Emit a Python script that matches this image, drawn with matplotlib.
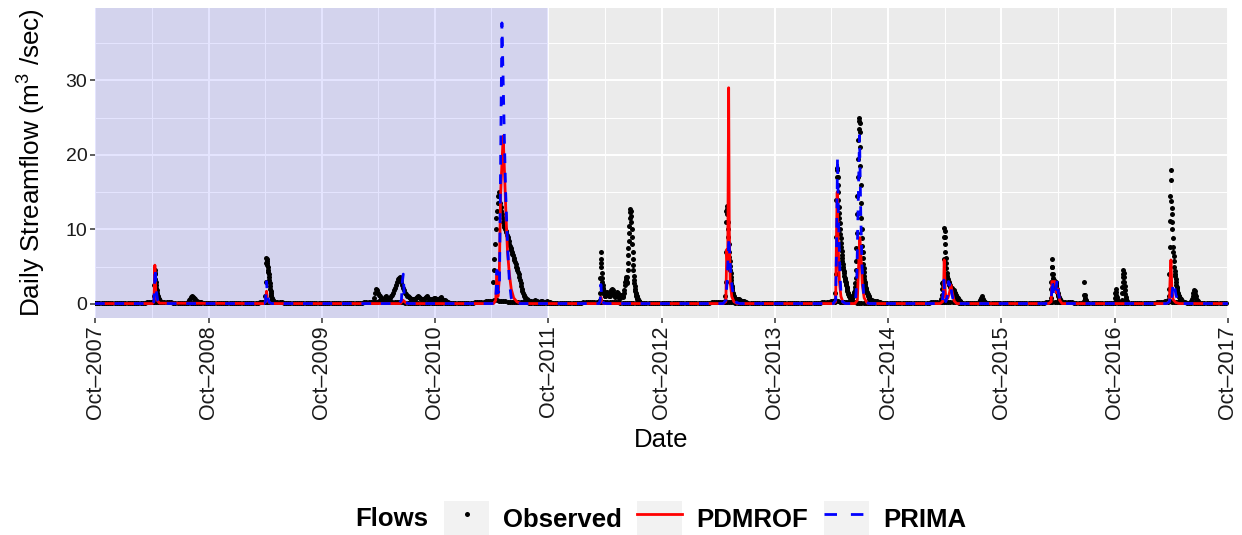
import numpy as np
import matplotlib
matplotlib.use("Agg")
import matplotlib.pyplot as plt
import matplotlib.dates as mdates
from matplotlib.legend_handler import HandlerTuple
from matplotlib.patches import Rectangle
from matplotlib.lines import Line2D

plt.rcParams['font.family'] = ['Liberation Sans', 'DejaVu Sans']
plt.rcParams['mathtext.fontset'] = 'custom'
plt.rcParams['mathtext.rm'] = 'Liberation Sans'
plt.rcParams['mathtext.it'] = 'Liberation Sans:italic'
plt.rcParams['mathtext.bf'] = 'Liberation Sans:bold'

# ---------------- data ----------------
t0 = np.datetime64('2007-10-01')          # day 0 of the record
t_end = np.datetime64('2017-10-01')
calib_end = np.datetime64('2011-10-01')   # shaded calibration period

# observed weekly low-flow baseline (m3/s), one value every 7 days from t0
obs_base_step = 7
obs_base = [
    0.10,0.10,0.11,0.12,0.12,0.11,0.10,0.10,0.09,0.09,0.10,0.11,0.12,0.12,0.11,0.10,0.10,0.09,0.10,0.11,0.12,0.14,0.16,0.18,0.20,0.22,
    0.25,0.28,0.30,0.30,0.28,0.26,0.24,0.22,0.20,0.19,0.18,0.17,0.16,0.15,0.15,0.14,0.14,0.13,0.13,0.12,0.12,0.12,0.11,0.11,0.11,0.10,
    0.10,0.10,0.10,0.11,0.11,0.10,0.10,0.09,0.09,0.09,0.10,0.10,0.11,0.11,0.10,0.10,0.09,0.09,0.10,0.11,0.12,0.13,0.15,0.17,0.20,0.22,
    0.26,0.30,0.32,0.30,0.28,0.25,0.22,0.20,0.19,0.18,0.17,0.16,0.15,0.14,0.14,0.13,0.13,0.12,0.12,0.12,0.11,0.11,0.11,0.10,0.10,0.10,
    0.10,0.10,0.11,0.11,0.12,0.12,0.11,0.10,0.10,0.10,0.11,0.12,0.13,0.13,0.12,0.11,0.11,0.12,0.14,0.16,0.20,0.25,0.30,0.30,0.28,0.30,
    0.32,0.35,0.35,0.33,0.30,0.28,0.26,0.25,0.24,0.22,0.20,0.20,0.19,0.18,0.18,0.17,0.17,0.16,0.16,0.15,0.15,0.15,0.14,0.14,0.14,0.14,
    0.13,0.13,0.13,0.14,0.15,0.16,0.15,0.14,0.13,0.13,0.14,0.15,0.16,0.17,0.16,0.15,0.15,0.16,0.18,0.20,0.22,0.25,0.28,0.30,0.33,0.35,
    0.40,0.45,0.50,0.50,0.45,0.40,0.36,0.33,0.30,0.28,0.26,0.25,0.24,0.22,0.21,0.20,0.20,0.19,0.18,0.18,0.17,0.17,0.16,0.16,0.15,0.15,
    0.15,0.14,0.14,0.15,0.16,0.15,0.14,0.13,0.13,0.12,0.12,0.13,0.14,0.15,0.16,0.17,0.18,0.20,0.22,0.25,0.28,0.30,0.32,0.30,0.28,0.27,
    0.26,0.25,0.24,0.23,0.22,0.21,0.20,0.19,0.18,0.17,0.16,0.15,0.14,0.14,0.13,0.13,0.12,0.12,0.12,0.11,0.11,0.11,0.10,0.10,0.10,0.10,
    0.10,0.10,0.10,0.11,0.11,0.11,0.10,0.10,0.10,0.10,0.11,0.11,0.12,0.12,0.11,0.11,0.10,0.10,0.11,0.12,0.13,0.14,0.15,0.17,0.19,0.21,
    0.24,0.27,0.30,0.28,0.26,0.24,0.22,0.20,0.19,0.18,0.17,0.16,0.15,0.14,0.14,0.13,0.13,0.12,0.12,0.11,0.11,0.11,0.10,0.10,0.10,0.10,
    0.10,0.10,0.10,0.10,0.11,0.11,0.10,0.10,0.10,0.09,0.09,0.10,0.10,0.11,0.11,0.10,0.10,0.10,0.11,0.12,0.14,0.16,0.18,0.20,0.22,0.25,
    0.30,0.35,0.40,0.38,0.35,0.32,0.30,0.28,0.26,0.24,0.22,0.20,0.19,0.18,0.17,0.16,0.15,0.15,0.14,0.14,0.13,0.13,0.12,0.12,0.12,0.11,
    0.11,0.11,0.10,0.10,0.11,0.11,0.10,0.10,0.10,0.10,0.10,0.11,0.11,0.12,0.12,0.11,0.11,0.12,0.13,0.15,0.17,0.20,0.22,0.25,0.28,0.30,
    0.32,0.30,0.28,0.26,0.24,0.22,0.20,0.19,0.18,0.17,0.16,0.15,0.14,0.14,0.13,0.13,0.12,0.12,0.12,0.11,0.11,0.11,0.10,0.10,0.10,0.10,
    0.10,0.10,0.10,0.11,0.11,0.10,0.10,0.10,0.09,0.09,0.10,0.10,0.11,0.11,0.10,0.10,0.10,0.11,0.12,0.13,0.15,0.17,0.19,0.22,0.25,0.28,
    0.30,0.32,0.30,0.28,0.26,0.24,0.22,0.20,0.19,0.18,0.17,0.16,0.15,0.14,0.14,0.13,0.13,0.12,0.12,0.12,0.11,0.11,0.11,0.10,0.10,0.10,
    0.10,0.10,0.10,0.10,0.11,0.11,0.10,0.10,0.10,0.10,0.10,0.11,0.11,0.12,0.12,0.11,0.11,0.12,0.13,0.15,0.18,0.21,0.24,0.28,0.30,0.33,
    0.35,0.33,0.30,0.28,0.26,0.24,0.22,0.20,0.19,0.18,0.17,0.16,0.15,0.14,0.14,0.13,0.13,0.12,0.12,0.12,0.11,0.11,0.11,0.10,0.10,0.10,
    0.10,0.10,
]

# observed storm events: (start day after t0, step in days, values)
obs_a_start, obs_a_step = 188, 1
obs_a = [0.2,0.4,1.0,2.5,4.2,4.5,4.0,3.4,2.9,2.5,2.1,1.8,1.5,1.3,1.1,0.9,0.8,0.7,0.6,0.5,0.45,0.4,0.35,0.3]
obs_a2_start, obs_a2_step = 300, 3
obs_a2 = [0.3,0.5,0.7,0.9,1.0,0.9,0.8,0.6,0.5,0.4,0.35,0.3,0.3,0.3,0.25]
obs_b_start, obs_b_step = 548, 1
obs_b = [0.3,1.0,3.0,5.5,6.2,6.0,5.8,5.5,5.2,4.9,4.6,4.3,4.0,3.6,3.2,2.8,2.4,2.0,1.7,1.4,1.2,1.0,0.8,0.7,0.6,0.5,0.4,0.35,0.3]
obs_c_start, obs_c_step = 898, 3
obs_c = [0.3,0.8,1.5,2.0,1.8,1.5,1.2,1.0,
         0.8,0.7,0.6,0.7,0.9,1.0,0.8,0.7,0.6,0.7,0.8,1.0,1.2,
         1.5,1.8,2.2,2.6,3.0,3.3,3.5,3.6,3.4,3.0,2.6,2.2,
         1.8,1.5,1.3,1.1,1.0,0.9,0.8,0.7,0.7,0.6,0.6,0.6,
         0.7,0.8,0.9,1.0,0.9,0.8,0.7,0.6,0.6,0.7,0.8,0.9,
         1.0,0.9,0.8,0.7,0.6,0.5,0.6,0.7,0.8,0.8,0.7,0.6,
         0.5,0.6,0.8,0.9,0.8,0.6,0.5,0.4,0.5,0.4,0.3,0.3]
obs_d_start, obs_d_step = 1282, 2
obs_d = [0.4,3.0,4.5,6.0,8.0,10.0,11.5,12.5,13.5,14.5,15.0,14.5,13.5,
         13.0,12.5,12.0,11.5,11.0,10.6,10.3,10.0,9.8,9.6,
         9.3,9.0,8.7,8.4,8.1,7.8,7.5,7.2,6.9,6.7,6.5,
         6.2,5.9,5.6,5.3,5.0,4.8,4.6,4.3,4.0,
         3.6,3.2,2.8,2.4,2.0,1.7,1.4,1.2,1.0,
         0.9,0.8,0.7,0.6,0.55,0.5,0.45,0.4,0.4,0.35]
obs_d2_start, obs_d2_step = 1406, 4
obs_d2 = [0.35,0.3,0.4,0.5,0.45,0.35,0.3,0.3,0.35,0.4,0.3,0.25,0.3,0.35,0.3,0.25]
obs_e_start, obs_e_step = 1626, 1
obs_e = [0.3,0.5,1.5,3.5,5.5,6.9,6.0,5.0,4.2,3.5,3.0,2.6,2.2,1.9,1.7,1.5,1.3,1.2,1.1,1.1,1.2,1.3]
obs_e2_start, obs_e2_step = 1649, 2
obs_e2 = [1.5,1.6,1.5,1.3,1.1,1.0,1.2,1.5,1.8,2.0,1.8,1.5,1.2,1.0,0.9,1.0,1.3,1.6,1.4,1.1,
          0.9,0.8,0.8,1.0,1.2,1.0,0.9,1.1,1.4,1.9]
obs_e3_start, obs_e3_step = 1709, 1
obs_e3 = [2.5,3.0,3.4,3.6,3.2,2.8,3.0,3.6,4.5,5.5,6.5,7.5,8.5,9.5,10.5,11.5,12.3,12.8,12.5,11.8,
          11.0,10.0,9.0,8.0,7.0,6.0,5.2,4.5,3.8,3.2,2.8,2.4,2.0,1.7,1.5,1.3,1.1,1.0,0.9,0.8,
          0.7,0.6,0.5,0.45,0.4,0.35,0.3]
obs_f_start, obs_f_step = 2030, 1
obs_f = [0.2,0.4,1.0,3.0,7.0,11.0,12.5,13.1,12.8,12.0,11.0,10.0,9.0,8.0,7.0,6.3,5.7,5.1,4.6,4.1,
         3.6,3.2,2.8,2.4,2.1,1.8,1.5,1.3,1.1,1.0,0.9,0.8,0.7,0.6,0.6,0.55,0.5]
obs_f2_start, obs_f2_step = 2067, 3
obs_f2 = [0.5,0.6,0.7,0.6,0.5,0.45,0.4,0.35,0.35,0.3,0.3,0.25]
obs_g_start, obs_g_step = 2385, 1
obs_g = [0.3,0.5,1.5,4.0,9.0,14.0,17.0,18.3,18.0,17.0,16.0,15.0,14.0,13.0,12.2,11.5,10.8,10.0,9.4,8.8,
         8.2,7.6,7.1,6.6,6.2,5.8,5.4,5.0,4.7,4.4,4.1,3.8,3.5,3.3,3.1,2.9,2.7,2.5,2.3,2.1,
         1.9,1.7,1.5,1.4,1.3,1.2,1.1,1.0,0.9,0.9,0.8,0.8,0.8,0.8,0.8,0.8,0.8,0.9,1.0,1.0,
         1.1,1.2,1.4,1.6,1.9,2.3,2.8,3.5,4.5,5.8,7.5,9.5,12.0,14.5,17.0,19.5,22.0,23.5,24.5,25.0,
         24.3,23.0,21.0,18.5,16.0,13.5,11.5,10.0,8.8,7.8,6.9,6.1,5.4,4.8,4.3,3.8,3.4,3.0,2.7,2.4,
         2.2,2.0,1.8,1.6,1.5,1.4,1.3,1.2,1.1,1.0,0.9,0.8,0.7,0.6,0.55,0.5,0.45,0.4]
obs_g2_start, obs_g2_step = 2500, 3
obs_g2 = [0.4,0.45,0.5,0.45,0.4,0.35,0.3,0.35,0.3,0.25,0.3]
obs_h_start, obs_h_step = 2728, 1
obs_h = [0.3,0.6,1.2,2.0,2.8,2.5,2.0,3.0,6.0,9.0,10.2,9.8,9.0,8.0,7.0,6.2,5.5,4.8,4.2,3.8,
         3.5,3.3,3.1,3.0,2.9,2.8,2.7,2.6,2.5,2.4,2.3,2.2,2.2,2.1,2.1,2.0,2.0,1.9,1.9,1.8,
         1.8,1.7,1.7,1.6,1.5,1.4,1.3,1.2,1.1,1.0,0.9,0.85,0.8,0.75,0.7,0.65,0.6,0.55,0.5,0.45,
         0.4,0.35,0.3]
obs_h2_start, obs_h2_step = 2850, 3
obs_h2 = [0.3,0.5,0.8,1.0,0.7,0.4,0.3]
obs_i_start, obs_i_step = 3080, 1
obs_i = [0.3,0.8,2.0,3.0,4.0,5.0,6.0,5.0,4.0,3.5,3.2,2.8,3.0,3.2,2.8,2.5,2.2,2.6,3.0,2.8,
         2.4,2.0,1.8,1.6,1.4,1.2,1.0,0.9,0.8,0.7,0.6,0.5,0.45,0.4,0.35,0.3]
obs_i2_start, obs_i2_step = 3188, 1
obs_i2 = [0.4,1.2,3.0,1.2,0.8,0.6,0.5,0.4]
obs_i3_start, obs_i3_step = 3288, 1
obs_i3 = [0.3,0.8,1.5,2.0,1.6,1.2,0.9,0.7,0.5,0.4,0.3]
obs_i4_start, obs_i4_step = 3310, 1
obs_i4 = [0.5,1.5,2.3,3.0,3.6,4.0,4.6,4.2,3.6,3.0,2.4,1.8,1.3,0.9,0.6,0.45,0.35,0.3]
obs_j_start, obs_j_step = 3460, 1
obs_j = [0.3,0.5,1.0,2.0,4.0,7.7,11.1,14.5,17.9,16.6,13.8,12.9,12.0,11.0,10.0,8.8,7.7,6.9,6.4,5.7,
         5.0,4.4,4.0,3.7,3.3,2.9,2.6,2.3,2.1,1.9,1.7,1.5,1.3,1.2,1.1,1.0,0.9,0.8,0.7,0.65,
         0.6,0.55,0.5,0.5,0.45,0.45,0.4]
obs_j2_start, obs_j2_step = 3535, 2
obs_j2 = [0.4,0.6,1.0,1.5,1.9,1.7,1.3,1.0,0.7,0.5,0.4,0.3]

# simulated flows: hydrograph vertices (day after t0, m3/s)
pdm_day = [0,
           185,190,193,196,200,208,
           545,550,553,556,562,570,
           985,993,998,1005,
           1285,1292,1296,1299,1303,1308,1316,1320,1325,1330,1336,1342,1350,1360,1370,1380,
           1625,1629,1631,1634,1640,
           2025,2034,2037,2040,2043,2045,2048,2053,2060,2070,
           2380,2388,2391,2393,2396,2400,2405,2412,2420,2450,2458,2462,2466,2470,2474,2480,2490,2500,
           2725,2733,2736,2738,2741,2744,2750,2755,2760,2764,2770,2778,
           3075,3083,3085,3096,3100,3105,3110,3118,
           3455,3464,3466,3469,3472,3476,3484,3495,
           3653]
pdm_q = [0.05,
         0.05,0.3,5.2,1.5,0.5,0.1,
         0.05,0.3,1.7,0.6,0.15,0.05,
         0.05,0.5,0.3,0.05,
         0.05,0.5,4.0,1.0,3.0,15.0,22.5,18.0,12.0,7.0,4.0,2.0,0.8,0.3,0.1,0.05,
         0.05,0.3,0.9,0.3,0.05,
         0.05,0.3,7.3,5.0,29.0,10.0,3.0,1.0,0.3,0.05,
         0.05,0.3,10.0,15.0,8.0,3.0,1.0,0.2,0.05,0.05,0.5,5.0,8.9,6.0,2.5,0.8,0.1,0.05,
         0.05,0.3,2.0,5.9,2.0,0.5,0.8,1.5,2.5,1.5,0.4,0.05,
         0.05,0.3,3.0,3.0,1.5,2.0,0.5,0.05,
         0.05,0.3,3.0,5.9,2.0,0.6,0.2,0.05,
         0.05]
prima_day = [0,
             185,190,194,197,202,210,218,
             545,550,553,556,562,570,
             980,988,991,994,997,1000,1010,
             1285,1292,1296,1300,1304,1308,1312,1316,1320,1324,1330,1336,1342,1350,1360,
             1625,1629,1631,1634,1640,1650,
             2025,2034,2038,2041,2044,2047,2051,2055,2060,2068,2078,
             2380,2388,2391,2394,2397,2401,2405,2410,2420,2445,2452,2456,2460,2465,2469,2473,2478,2485,2495,
             2725,2732,2735,2737,2740,2743,2748,2752,2755,2758,2762,2768,2775,
             3075,3083,3087,3091,3097,3102,3106,3112,3120,
             3455,3464,3468,3472,3476,3480,3485,3492,3505,
             3653]
prima_q = [0.05,
           0.05,0.3,4.8,2.0,0.5,0.1,0.05,
           0.05,0.3,3.0,1.0,0.2,0.05,
           0.05,0.5,3.0,4.0,1.0,0.2,0.05,
           0.05,0.5,4.5,1.5,2.0,20.0,37.7,30.0,22.0,15.0,8.0,3.0,0.8,0.1,0.05,
           0.05,0.5,2.6,0.8,0.1,0.05,
           0.05,0.5,3.0,6.0,8.9,6.0,3.5,2.0,0.8,0.2,0.05,
           0.05,0.5,8.0,19.7,12.0,5.0,1.5,0.3,0.05,0.05,0.3,3.0,12.0,22.6,12.0,5.0,1.5,0.3,0.05,
           0.05,0.4,1.5,3.2,1.0,0.3,1.0,3.0,2.5,3.0,1.5,0.3,0.05,
           0.05,0.5,3.2,1.0,1.5,3.2,1.5,0.3,0.05,
           0.05,0.3,1.5,1.0,2.8,2.6,1.2,0.4,0.05,
           0.05]

obs_events = [
    (obs_a_start, obs_a_step, obs_a), (obs_a2_start, obs_a2_step, obs_a2),
    (obs_b_start, obs_b_step, obs_b), (obs_c_start, obs_c_step, obs_c),
    (obs_d_start, obs_d_step, obs_d), (obs_d2_start, obs_d2_step, obs_d2),
    (obs_e_start, obs_e_step, obs_e), (obs_e2_start, obs_e2_step, obs_e2),
    (obs_e3_start, obs_e3_step, obs_e3), (obs_f_start, obs_f_step, obs_f),
    (obs_f2_start, obs_f2_step, obs_f2), (obs_g_start, obs_g_step, obs_g),
    (obs_g2_start, obs_g2_step, obs_g2), (obs_h_start, obs_h_step, obs_h),
    (obs_h2_start, obs_h2_step, obs_h2), (obs_i_start, obs_i_step, obs_i),
    (obs_i2_start, obs_i2_step, obs_i2), (obs_i3_start, obs_i3_step, obs_i3),
    (obs_i4_start, obs_i4_step, obs_i4), (obs_j_start, obs_j_step, obs_j),
    (obs_j2_start, obs_j2_step, obs_j2),
]

# ---------------- assemble ----------------
def to_dates(days):
    return t0 + np.asarray(days, dtype=int).astype('timedelta64[D]')

obs_days = [obs_base_step * np.arange(len(obs_base))]
obs_vals = [np.asarray(obs_base)]
for start, step, vals in obs_events:
    obs_days.append(start + step * np.arange(len(vals)))
    obs_vals.append(np.asarray(vals))
obs_days = np.concatenate(obs_days)
obs_vals = np.concatenate(obs_vals)

# ---------------- figure ----------------
W, H = 1242, 535
fig = plt.figure(figsize=(W / 100, H / 100), dpi=100)
ax = fig.add_axes([95 / W, 1 - 318 / H, (1228 - 95) / W, (318 - 8) / H])
ax.set_facecolor('#EBEBEB')
for s in ax.spines.values():
    s.set_visible(False)

ax.set_axisbelow(True)
ax.grid(which='major', color='white', lw=1.4)
ax.grid(which='minor', color='white', lw=0.7)

ax.axvspan(t0, calib_end, color='blue', alpha=0.1, lw=0, zorder=1)

ax.plot(to_dates(obs_days), obs_vals, ls='none', marker='o', ms=3.6,
        color='black', mec='none', zorder=2)
ax.plot(to_dates(pdm_day), pdm_q, color='red', lw=2.0, zorder=3)
ax.plot(to_dates(prima_day), prima_q, color='blue', lw=2.0,
        ls=(0, (3.5, 3.5)), zorder=4)

ax.set_xlim(t0, t_end)
ax.set_ylim(-1.89, 39.7)
ax.xaxis.set_major_locator(mdates.MonthLocator(bymonth=10))
ax.xaxis.set_minor_locator(mdates.MonthLocator(bymonth=4))
ax.xaxis.set_major_formatter(mdates.DateFormatter('%b\u2013%Y'))
ax.set_yticks([0, 10, 20, 30])
ax.set_yticks([5, 15, 25, 35], minor=True)

ax.tick_params(which='major', length=3.5, width=1.1, color='#333333',
               labelcolor='#1a1a1a', pad=2)
ax.tick_params(axis='x', which='major', labelsize=15.5)
ax.tick_params(axis='y', which='major', labelsize=14)
ax.tick_params(which='minor', length=0)
for lab in ax.get_xticklabels():
    lab.set_rotation(90)
    lab.set_ha('center')
    lab.set_va('top')

ax.set_ylabel('Daily Streamflow (m$^{3}$ /sec)', fontsize=18.8, va='center')
ax.yaxis.set_label_coords((32 - 95) / (1228 - 95), 0.5)
ax.set_xlabel('Date', fontsize=18.5, va='center')
ax.xaxis.set_label_coords(0.5, (318 - 440) / (318 - 8))

# legend
bg = Rectangle((0, 0), 1, 1, facecolor='#F2F2F2', edgecolor='none')
h_obs = (bg, Line2D([], [], ls='none', marker='o', ms=3.6, color='black', mec='none'))
h_pdm = (bg, Line2D([], [], color='red', lw=2.0))
h_pri = (bg, Line2D([], [], color='blue', lw=2.0, ls=(0, (4.5, 5))))
fig.legend([h_obs, h_pdm, h_pri], ['Observed', 'PDMROF', 'PRIMA'],
           handler_map={tuple: HandlerTuple(ndivide=1, pad=0)},
           ncol=3, loc='center', bbox_to_anchor=(705 / W, 1 - 519 / H),
           frameon=False, prop={'weight': 'bold', 'size': 18.5},
           handlelength=1.75, handleheight=1.75, handletextpad=0.55,
           columnspacing=0.6, numpoints=1)
fig.text(355 / W, 1 - 519 / H, 'Flows', fontsize=18.5, fontweight='bold',
         ha='left', va='center')

fig.savefig('out.png', dpi=100)
